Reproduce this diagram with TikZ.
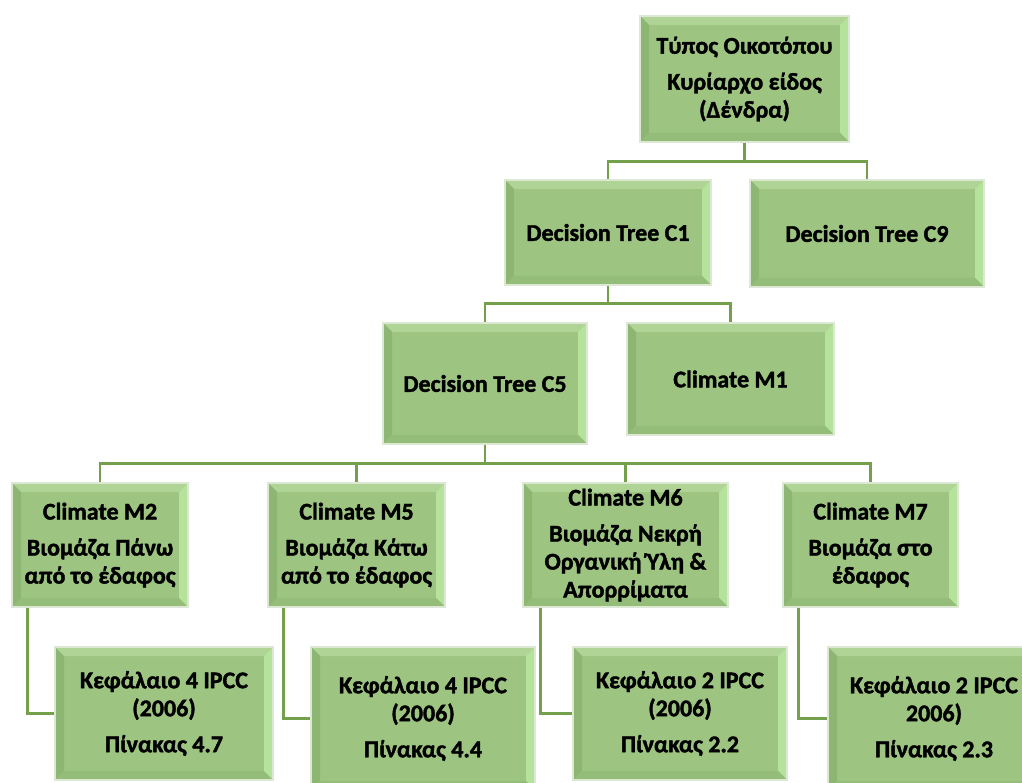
\documentclass[tikz,border=0pt]{standalone}
\usepackage{fontspec}
\setmainfont{Carlito}[BoldFeatures={FakeBold=1.6}]

\begin{document}
\begin{tikzpicture}[x=1pt, y=-1pt,
    every node/.style={rectangle, draw=boxglow, line width=1.2pt, fill=boxmid,
        align=center, inner sep=0pt, font=\fontsize{24}{28}\selectfont\bfseries,
        path picture={
            \path (path picture bounding box.north west) coordinate (bnw)
                  (path picture bounding box.north east) coordinate (bne)
                  (path picture bounding box.south west) coordinate (bsw)
                  (path picture bounding box.south east) coordinate (bse);
            \fill[bevtop] (bnw) -- (bne) -- ([shift={(-9pt,-9pt)}]bne) -- ([shift={(9pt,-9pt)}]bnw) -- cycle;
            \fill[bevleft] (bnw) -- ([shift={(9pt,-9pt)}]bnw) -- ([shift={(9pt,9pt)}]bsw) -- (bsw) -- cycle;
            \fill[bevright] (bne) -- (bse) -- ([shift={(-9pt,9pt)}]bse) -- ([shift={(-9pt,-9pt)}]bne) -- cycle;
            \fill[bevbottom] (bsw) -- ([shift={(9pt,9pt)}]bsw) -- ([shift={(-9pt,9pt)}]bse) -- (bse) -- cycle;
        }},
    link/.style={draw=linkgreen, line width=2.6pt}]
            % colours of the bevelled boxes and the links
            \definecolor{boxmid}{HTML}{9DC581}
            \definecolor{bevtop}{HTML}{AFD495}
            \definecolor{bevleft}{HTML}{8EB673}
            \definecolor{bevright}{HTML}{B6E39C}
            \definecolor{bevbottom}{HTML}{95BD7A}
            \definecolor{boxglow}{HTML}{DCE8D4}
            \definecolor{linkgreen}{HTML}{74A04C}
            \useasboundingbox (0,0) rectangle (1022,783);
            \clip (0,0) rectangle (1022,783);
            \fill[white] (0,0) rectangle (1022,783);
            \node[minimum width=209pt, minimum height=126pt] (typos) at (744.5,79) {Τύπος Οικοτόπου\\[8pt]Κυρίαρχο είδος\\(Δένδρα)};
            \node[minimum width=206pt, minimum height=105pt] (c1) at (608,232.5) {Decision Tree C1};
            \node[minimum width=234pt, minimum height=107pt] (c9) at (867,233.5) {Decision Tree C9};
            \node[minimum width=204pt, minimum height=121pt] (c5) at (485,383.5) {Decision Tree C5};
            \node[minimum width=207pt, minimum height=112pt] (m1) at (730.5,379) {Climate M1};
            \node[minimum width=176pt, minimum height=124pt] (m2) at (100,545) {Climate M2\\[8pt]Βιομάζα Πάνω\\από το έδαφος};
            \node[minimum width=177pt, minimum height=124pt] (m5) at (356.5,545) {Climate M5\\[8pt]Βιομάζα Κάτω\\από το έδαφος};
            \node[minimum width=205pt, minimum height=124pt] (m6) at (625.5,545) {Climate M6\\[8pt]Βιομάζα Νεκρή\\Οργανική Ύλη \&\\Απορρίματα};
            \node[minimum width=175pt, minimum height=124pt] (m7) at (870.5,545) {Climate M7\\[8pt]Βιομάζα στο\\έδαφος};
            \node[minimum width=218pt, minimum height=133pt] (k1) at (164,713.5) {Κεφάλαιο 4 IPCC\\(2006)\\[8pt]Πίνακας 4.7};
            \node[minimum width=224pt, minimum height=143pt] (k2) at (423,718.5) {Κεφάλαιο 4 IPCC\\(2006)\\[8pt]Πίνακας 4.4};
            \node[minimum width=214pt, minimum height=133pt] (k3) at (680,713.5) {Κεφάλαιο 2 IPCC\\(2006)\\[8pt]Πίνακας 2.2};
            \node[minimum width=212pt, minimum height=143pt] (k4) at (934,718.5) {Κεφάλαιο 2 IPCC\\2006)\\[8pt]Πίνακας 2.3};
            \draw[link] (typos.south) -- ++(0,19) -| (c1.north);
            \draw[link] (typos.south) -- ++(0,19) -| (c9.north);
            \draw[link] (c1.south) -- ++(0,18) -| (c5.north);
            \draw[link] (c1.south) -- ++(0,18) -| (m1.north);
            \draw[link] (c5.south) -- ++(0,19) -| (m2.north);
            \draw[link] (c5.south) -- ++(0,19) -| (m5.north);
            \draw[link] (c5.south) -- ++(0,19) -| (m6.north);
            \draw[link] (c5.south) -- ++(0,19) -| (m7.north);
            \draw[link] ([xshift=16pt]m2.south west) |- (k1.west);
            \draw[link] ([xshift=16pt]m5.south west) |- (k2.west);
            \draw[link] ([xshift=18pt]m6.south west) |- (k3.west);
            \draw[link] ([xshift=16pt]m7.south west) |- (k4.west);
        \end{tikzpicture}
\end{document}
